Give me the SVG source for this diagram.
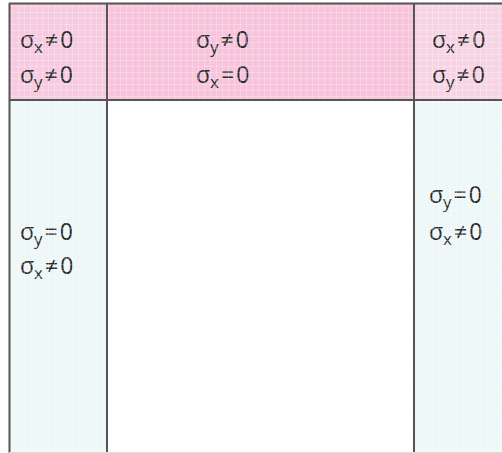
<svg xmlns="http://www.w3.org/2000/svg" width="502" height="453" viewBox="0 0 502 453">
<style>
.t{font-family:"Open Sans","DejaVu Sans",sans-serif;font-size:23px;fill:#2a2a2a}
.s{font-size:17px}
.ln{stroke:#555;stroke-width:2;fill:none}
</style>
<defs>
<pattern id="grid" width="6" height="6" patternUnits="userSpaceOnUse">
<path d="M0 0.5H6M0.5 0V6" stroke="#ffffff" stroke-opacity="0.25" stroke-width="1"/>
</pattern>
</defs>
<rect x="0" y="0" width="502" height="453" fill="#ffffff"/>
<g id="cell-top-left">
<rect x="9" y="3" width="98" height="97" fill="#f6cbe0"/>
<text class="t" x="20" y="48">σ<tspan class="s" dy="5">x</tspan><tspan dy="-5" dx="2">≠</tspan><tspan dx="2">0</tspan></text>
<text class="t" x="20" y="83">σ<tspan class="s" dy="5">y</tspan><tspan dy="-5" dx="2">≠</tspan><tspan dx="2">0</tspan></text>
</g>
<g id="cell-top-middle">
<rect x="107" y="3" width="307" height="97" fill="#f7c4db"/>
<text class="t" x="196" y="48">σ<tspan class="s" dy="5">y</tspan><tspan dy="-5" dx="2">≠</tspan><tspan dx="2">0</tspan></text>
<text class="t" x="196" y="83">σ<tspan class="s" dy="5">x</tspan><tspan dy="-5" dx="2">=</tspan><tspan dx="2">0</tspan></text>
</g>
<g id="cell-top-right">
<rect x="414" y="3" width="88" height="97" fill="#f6d4e4"/>
<text class="t" x="432" y="48">σ<tspan class="s" dy="5">x</tspan><tspan dy="-5" dx="2">≠</tspan><tspan dx="2">0</tspan></text>
<text class="t" x="432" y="83">σ<tspan class="s" dy="5">y</tspan><tspan dy="-5" dx="2">≠</tspan><tspan dx="2">0</tspan></text>
</g>
<g id="cell-left">
<rect x="9" y="100" width="98" height="353" fill="#eef7f7"/>
<text class="t" x="20" y="240">σ<tspan class="s" dy="5">y</tspan><tspan dy="-5" dx="2">=</tspan><tspan dx="2">0</tspan></text>
<text class="t" x="20" y="274">σ<tspan class="s" dy="5">x</tspan><tspan dy="-5" dx="2">≠</tspan><tspan dx="2">0</tspan></text>
</g>
<g id="cell-right">
<rect x="414" y="100" width="88" height="353" fill="#eef7f7"/>
<text class="t" x="429" y="203">σ<tspan class="s" dy="5">y</tspan><tspan dy="-5" dx="2">=</tspan><tspan dx="2">0</tspan></text>
<text class="t" x="429" y="240">σ<tspan class="s" dy="5">x</tspan><tspan dy="-5" dx="2">≠</tspan><tspan dx="2">0</tspan></text>
</g>
<rect x="9" y="3" width="493" height="450" fill="url(#grid)"/>
<g id="connectors">
<line class="ln" x1="9.5" y1="3" x2="9.5" y2="453" stroke="#333" stroke-width="1.5"/>
<line class="ln" x1="9" y1="3.5" x2="502" y2="3.5" stroke="#333" stroke-width="1.5"/>
<line class="ln" x1="107" y1="3" x2="107" y2="453" stroke="#444" stroke-width="1.5"/>
<line class="ln" x1="414" y1="3" x2="414" y2="453" stroke="#777" stroke-width="2.5"/>
<line class="ln" x1="9" y1="100" x2="502" y2="100" stroke="#444" stroke-width="1.5"/>
<line x1="9" y1="452.5" x2="502" y2="452.5" stroke="#ddd" stroke-width="1"/>
</g>
</svg>
